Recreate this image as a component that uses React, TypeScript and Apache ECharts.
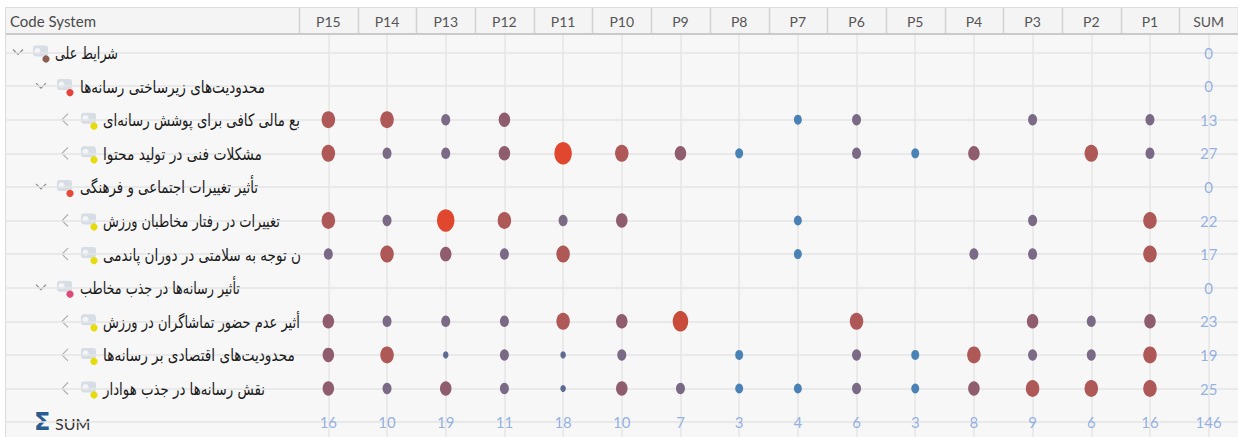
import React, { useEffect, useRef } from "react";
import * as echarts from "echarts";

// ---- data ----
const columns = ["P15", "P14", "P13", "P12", "P11", "P10", "P9", "P8", "P7", "P6", "P5", "P4", "P3", "P2", "P1"];
const sumHeader = "SUM";

const codeLabels = [
  "شرایط علی",
  "محدودیت‌های زیرساختی رسانه‌ها",
  "بع مالی کافی برای پوشش رسانه‌ای",
  "مشکلات فنی در تولید محتوا",
  "تأثیر تغییرات اجتماعی و فرهنگی",
  "تغییرات در رفتار مخاطبان ورزش",
  "ن توجه به سلامتی در دوران پاندمی",
  "تأثیر رسانه‌ها در جذب مخاطب",
  "أثیر عدم حضور تماشاگران در ورزش",
  "محدودیت‌های اقتصادی بر رسانه‌ها",
  "نقش رسانه‌ها در جذب هوادار",
];
const codeDepth = [0, 1, 2, 2, 1, 2, 2, 1, 2, 2, 2];
const codeExpanded = [true, true, false, false, true, false, false, true, false, false, false];
const codeColor = ["#8a5f52", "#e8413b", "#e6dc0a", "#e6dc0a", "#e84a3a", "#e6dc0a", "#e6dc0a", "#e04a78", "#e6dc0a", "#e6dc0a", "#e6dc0a"];

// symbol level shown in each cell (0 = no symbol), columns P15..P1
const symbolLevel: number[][] = [
  [0, 0, 0, 0, 0, 0, 0, 0, 0, 0, 0, 0, 0, 0, 0],
  [0, 0, 0, 0, 0, 0, 0, 0, 0, 0, 0, 0, 0, 0, 0],
  [5, 5, 3, 4, 0, 0, 0, 0, 2, 3, 0, 0, 3, 0, 3],
  [5, 3, 3, 4, 7, 5, 4, 2, 0, 3, 2, 4, 0, 5, 3],
  [0, 0, 0, 0, 0, 0, 0, 0, 0, 0, 0, 0, 0, 0, 0],
  [5, 3, 7, 5, 3, 4, 0, 0, 2, 0, 0, 0, 3, 0, 5],
  [3, 5, 4, 3, 5, 0, 0, 0, 2, 0, 0, 3, 3, 0, 5],
  [0, 0, 0, 0, 0, 0, 0, 0, 0, 0, 0, 0, 0, 0, 0],
  [4, 3, 3, 3, 5, 4, 6, 0, 0, 5, 0, 0, 4, 3, 4],
  [4, 5, 1, 3, 1, 3, 0, 2, 0, 3, 2, 5, 3, 3, 5],
  [4, 3, 4, 3, 1, 4, 3, 2, 2, 3, 2, 4, 5, 5, 5],
];
const rowSums = [0, 0, 13, 27, 0, 22, 17, 0, 23, 19, 25];
const colSums = [16, 10, 19, 11, 18, 10, 7, 3, 4, 6, 3, 8, 9, 6, 16];
const grandTotal = 146;

// ---- styling / layout ----
const levelSize: number[][] = [
  [0, 0],
  [5.5, 7],
  [8, 10],
  [9, 11.5],
  [11.5, 14.5],
  [13.5, 17],
  [15.5, 20.5],
  [17.5, 22.5],
];
const levelColor = ["#000", "#5b6b92", "#4a82b5", "#7a6a86", "#8f5d6e", "#ae5858", "#c94b3c", "#e1472f"];
// right edge of each label as seen in the reference (layout only)
const labelRight = [118, 265, 300, 262, 258, 280, 301, 240, 300, 295, 265];

const W = 1238;
const H = 437;
const labelEnd = 299;
const colW = (W - labelEnd) / 16;
const headerTop = 7;
const headerBottom = 35;
const firstRowY = 52.5;
const rowH = 33.6;
const sumRowIndex = codeLabels.length; // 11
const chevronX = [18, 41, 65];
const iconX = [33, 57, 81];
const textX = [55, 80, 103];
const FONT_LATIN = "Lato, 'Noto Sans', sans-serif";
const FONT_FA = "'DejaVu Sans', sans-serif";
const FA_SIZE = 17;

export default function App() {
  const ref = useRef<HTMLDivElement>(null);

  useEffect(() => {
    document.body.style.margin = "0";
    if (!ref.current) return;
    const chart = echarts.init(ref.current, undefined, { renderer: "svg" });

    const ctx = document.createElement("canvas").getContext("2d")!;
    ctx.font = `${FA_SIZE}px ${FONT_FA}`;

    const gridALeft = labelEnd + colW / 2;
    const gridARight = W - (labelEnd + 15.5 * colW);
    const yMinA = -(firstRowY - headerBottom) / rowH;
    const yMaxA = yMinA + (H - headerBottom) / rowH;

    const dots: any[] = [];
    symbolLevel.forEach((row, k) => {
      row.forEach((lv, i) => {
        if (lv > 0) dots.push([i, k, lv]);
      });
    });

    const sums: any[] = [];
    rowSums.forEach((s, k) => sums.push([15, k, s]));
    colSums.forEach((s, i) => sums.push([i, sumRowIndex, s]));
    sums.push([15, sumRowIndex, grandTotal]);

    const graphics: any[] = [];
    graphics.push({ type: "rect", shape: { x: 0, y: 0, width: W, height: headerTop }, style: { fill: "#ffffff" }, silent: true });
    graphics.push({ type: "rect", shape: { x: 0, y: 0, width: 5, height: H }, style: { fill: "#ffffff" }, silent: true });
    graphics.push({
      type: "rect",
      shape: { x: 5, y: headerTop, width: W - 5, height: headerBottom - headerTop },
      style: { fill: "#f4f4f4" },
      silent: true,
    });
    graphics.push({ type: "line", shape: { x1: 5, y1: headerTop + 0.5, x2: W, y2: headerTop + 0.5 }, style: { stroke: "#dedede", lineWidth: 1 }, silent: true });
    graphics.push({ type: "line", shape: { x1: 5, y1: headerBottom - 1, x2: W, y2: headerBottom - 1 }, style: { stroke: "#cacaca", lineWidth: 2 }, silent: true });
    graphics.push({ type: "line", shape: { x1: 5.5, y1: headerTop, x2: 5.5, y2: H }, style: { stroke: "#dcdcdc", lineWidth: 1 }, silent: true });
    for (let j = 0; j <= 16; j++) {
      const x = Math.round(labelEnd + j * colW) + 0.5;
      graphics.push({ type: "line", shape: { x1: x, y1: headerTop + 1, x2: x, y2: headerBottom - 2 }, style: { stroke: "#d2d2d2", lineWidth: 1.5 }, silent: true });
    }
    graphics.push({
      type: "text",
      x: 10,
      y: 21,
      style: { text: "Code System", fill: "#4a4a4a", font: `15px ${FONT_LATIN}`, verticalAlign: "middle", align: "left" },
      silent: true,
    });

    codeLabels.forEach((label, k) => {
      const y = firstRowY + k * rowH;
      const d = codeDepth[k];
      const cx = chevronX[d];
      if (codeExpanded[k]) {
        graphics.push({
          type: "polyline",
          shape: { points: [[cx - 5, y - 3], [cx, y + 2], [cx + 5, y - 3]] },
          style: { stroke: "#8c8c8c", lineWidth: 1.2, fill: null },
          silent: true,
        });
      } else {
        graphics.push({
          type: "polyline",
          shape: { points: [[cx + 3, y - 6], [cx - 3, y], [cx + 3, y + 6]] },
          style: { stroke: "#b0b0b0", lineWidth: 1.2, fill: null },
          silent: true,
        });
      }
      const ix = iconX[d];
      graphics.push({ type: "rect", shape: { x: ix, y: y - 7, width: 15, height: 11, r: 3 }, style: { fill: "#d7dde5" }, silent: true });
      graphics.push({ type: "circle", shape: { cx: ix + 4.5, cy: y - 1.5, r: 3 }, style: { fill: "#f3f5f8" }, silent: true });
      graphics.push({ type: "circle", shape: { cx: ix + 13, cy: y + 6.5, r: 3.6 }, style: { fill: codeColor[k] }, silent: true });
      const measured = ctx.measureText(label).width;
      const target = labelRight[k] - textX[d];
      const sx = measured > 0 ? target / measured : 0.78;
      graphics.push({
        type: "text",
        x: textX[d],
        y: y + 1,
        scaleX: sx,
        z: 5,
        style: { text: label, fill: "#1a1a1a", font: `${FA_SIZE}px ${FONT_FA}`, verticalAlign: "middle", align: "left" },
        silent: true,
      });
    });

    const sumY = firstRowY + sumRowIndex * rowH;
    graphics.push({
      type: "text",
      x: 34,
      y: sumY,
      style: { text: "Σ", fill: "#2a5d8f", font: `bold 24px ${FONT_FA}`, verticalAlign: "middle", align: "left" },
      silent: true,
    });
    graphics.push({
      type: "text",
      x: 55,
      y: sumY + 1,
      style: { text: "SUM", fill: "#333333", font: `16px ${FONT_LATIN}`, verticalAlign: "middle", align: "left" },
      silent: true,
    });

    const option: any = {
      animation: false,
      backgroundColor: "#f7f7f7",
      grid: [
        { left: gridALeft, right: gridARight, top: headerBottom, bottom: 0 },
        { left: 5, right: 0, top: firstRowY, bottom: H - (firstRowY + sumRowIndex * rowH) },
      ],
      xAxis: [
        {
          type: "value",
          gridIndex: 0,
          position: "top",
          min: 0,
          max: 15,
          interval: 1,
          axisLine: { show: false },
          axisTick: { show: false },
          axisLabel: {
            show: true,
            margin: 14,
            verticalAlign: "middle",
            showMinLabel: true,
            showMaxLabel: true,
            color: "#555555",
            fontFamily: FONT_LATIN,
            fontSize: 14,
            formatter: (v: number) => (v === 15 ? sumHeader : columns[v] ?? ""),
          },
          splitLine: { show: true, lineStyle: { color: "#e6e6e6", width: 1.5 } },
        },
        { type: "value", gridIndex: 1, min: 0, max: 1, show: false },
      ],
      yAxis: [
        { type: "value", gridIndex: 0, inverse: true, min: yMinA, max: yMaxA, show: false },
        {
          type: "value",
          gridIndex: 1,
          inverse: true,
          min: 0,
          max: sumRowIndex,
          interval: 1,
          axisLine: { show: false },
          axisTick: { show: false },
          axisLabel: { show: false },
          splitLine: { show: true, lineStyle: { color: "#e4e4e4", width: 1.5 } },
        },
      ],
      graphic: graphics,
      series: [
        {
          type: "scatter",
          xAxisIndex: 0,
          yAxisIndex: 0,
          data: dots,
          symbol: "circle",
          symbolSize: (v: number[]) => levelSize[v[2]],
          itemStyle: { color: (p: any) => levelColor[p.value[2]], opacity: 1 },
          z: 3,
        },
        {
          type: "scatter",
          xAxisIndex: 0,
          yAxisIndex: 0,
          data: sums,
          symbolSize: 1,
          itemStyle: { color: "rgba(0,0,0,0)" },
          label: {
            show: true,
            position: "inside",
            formatter: (p: any) => String(p.value[2]),
            color: "#7a9fdc",
            fontFamily: FONT_LATIN,
            fontSize: 15,
          },
          z: 3,
        },
      ],
    };

    chart.setOption(option);
    return () => chart.dispose();
  }, []);

  return <div ref={ref} style={{ width: W, height: H }} />;
}
